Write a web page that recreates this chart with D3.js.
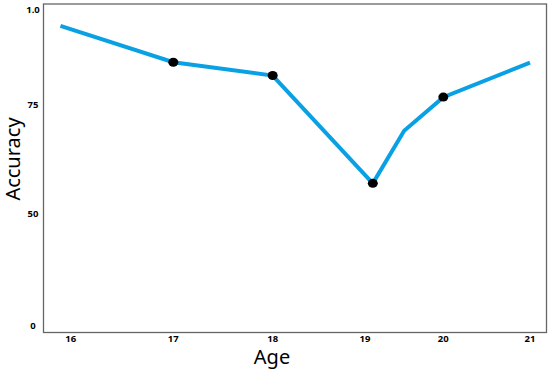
<!DOCTYPE html>
<html>
<head>
<meta charset="UTF-8">
<script src="https://d3js.org/d3.v7.min.js"></script>
<style>
  body { margin: 0; background: #fff; }
  text { font-family: "Noto Sans", "Open Sans", sans-serif; }
</style>
</head>
<body>
<div id="chart"></div>
<script>
// data
var ages = [15.9, 17, 18, 19.1, 19.5, 20, 21];
var accuracy = [95.8, 86.2, 82.7, 56.9, 69.0, 77.0, 86.1];
var marked = [false, true, true, true, false, true, false];

var xTicks = [16, 17, 18, 19, 20, 21];
var yTicks = [0, 50, 75, 100];
var yTickLabels = ["0", "50", "75", "1.0"];

var width = 550, height = 370;

var svg = d3.select("#chart")
  .append("svg")
    .attr("width", width)
    .attr("height", height);

// axis spacing in the original is uneven, so use piecewise scales
var x = d3.scaleLinear()
  .domain(xTicks)
  .range([70.7, 173.3, 272.7, 365, 443.3, 530]);

var y = d3.scaleLinear()
  .domain(yTicks)
  .range([326, 213.3, 104.7, 10]);

// frame
svg.append("rect")
  .attr("x", 43.5)
  .attr("y", 4)
  .attr("width", 503)
  .attr("height", 328.5)
  .attr("fill", "none")
  .attr("stroke", "#666")
  .attr("stroke-width", 1.3);

// y tick labels
svg.selectAll(".ylab")
  .data(yTicks)
  .enter()
  .append("text")
    .attr("x", 33)
    .attr("y", function(d) { return y(d); })
    .attr("dy", "0.35em")
    .attr("text-anchor", "middle")
    .style("font-size", "9.5px")
    .style("font-weight", "bold")
    .text(function(d, i) { return yTickLabels[i]; });

// x tick labels
svg.selectAll(".xlab")
  .data(xTicks)
  .enter()
  .append("text")
    .attr("x", function(d) { return x(d); })
    .attr("y", 338.5)
    .attr("dy", "0.35em")
    .attr("text-anchor", "middle")
    .style("font-size", "9.5px")
    .style("font-weight", "bold")
    .text(function(d) { return d; });

// axis titles
svg.append("text")
  .attr("x", 272)
  .attr("y", 364)
  .attr("text-anchor", "middle")
  .style("font-size", "20px")
  .text("Age");

svg.append("text")
  .attr("transform", "translate(20,159)rotate(-90)")
  .attr("text-anchor", "middle")
  .style("font-size", "20px")
  .text("Accuracy");

var pts = ages.map(function(a, i) { return { age: a, acc: accuracy[i], mark: marked[i] }; });

var line = d3.line()
  .x(function(d) { return x(d.age); })
  .y(function(d) { return y(d.acc); });

svg.append("path")
  .datum(pts)
  .attr("d", line)
  .attr("fill", "none")
  .attr("stroke", "#0aa1e4")
  .attr("stroke-width", 4);

svg.selectAll(".dot")
  .data(pts.filter(function(d) { return d.mark; }))
  .enter()
  .append("ellipse")
    .attr("cx", function(d) { return x(d.age); })
    .attr("cy", function(d) { return y(d.acc); })
    .attr("rx", 5)
    .attr("ry", 4.5)
    .attr("fill", "#000");
</script>
</body>
</html>
